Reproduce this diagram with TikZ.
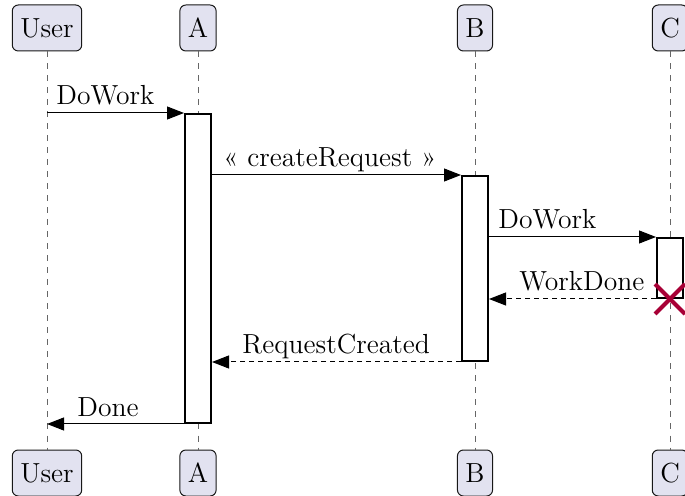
\documentclass[tikz,border=0pt]{standalone}
\usepackage{fontspec}
\usetikzlibrary{arrows.meta,fit}

\definecolor{partfill}{HTML}{E2E2F0}
\definecolor{partline}{HTML}{181818}
\definecolor{crossred}{HTML}{A80036}

\tikzset{
  part/.style={draw=partline,fill=partfill,rounded corners=3pt,line width=0.5pt,
    minimum height=23pt,inner xsep=4pt,inner ysep=0pt},
  lifeline/.style={draw=gray!80!black,line width=0.5pt,dash pattern=on 3pt off 3pt},
  activ/.style={draw=black,fill=white,line width=1pt,inner sep=0pt},
  msg/.style={line width=0.5pt,-{Triangle[length=8.5pt,width=6.5pt]}},
  reply/.style={msg,dash pattern=on 2.5pt off 2pt},
  lblr/.style={anchor=base west,inner sep=0pt,xshift=4.5pt,yshift=4pt},
  lbll/.style={anchor=base west,inner sep=0pt,xshift=15pt,yshift=4pt}
}

\begin{document}
\begin{tikzpicture}[x=0.5pt,y=-0.5pt,font=\fontsize{13.8}{16}\selectfont]
  \useasboundingbox (0,0) rectangle (685,496);

  % participanți
  \node[part] (userTop) at (47,28) {User};
  \node[part] (aTop) at (198,28) {A};
  \node[part] (bTop) at (475,28) {B};
  \node[part] (cTop) at (670,28) {C};
  \node[part] (userBot) at (47,473) {User};
  \node[part] (aBot) at (198,473) {A};
  \node[part] (bBot) at (475,473) {B};
  \node[part] (cBot) at (670,473) {C};

  % linii de viață
  \foreach \p in {user,a,b,c}
    \draw[lifeline] (\p Top) -- (\p Bot);

  % activări
  \node[activ,fit={(185,114) (211,423)}] (actA) {};
  \node[activ,fit={(462,176) (488,361)}] (actB) {};
  \node[activ,fit={(657,238) (683,298)}] (actC) {};

  % mesaje
  \draw[msg] (userTop |- actA.north) -- (actA.north west);
  \node[lblr] (m1) at (userTop |- actA.north) {DoWork};
  \draw[msg] (actA.east |- actB.north) -- (actB.north west);
  \node[lblr,xshift=1pt] (m2) at (actA.east |- actB.north) {« createRequest »};
  \draw[msg] (actB.east |- actC.north) -- (actC.north west);
  \node[lblr] (m3) at (actB.east |- actC.north) {DoWork};
  \draw[reply] (actC.south west) -- (actB.east |- actC.south);
  \node[lbll] (m4) at (actB.east |- actC.south) {WorkDone};
  \draw[reply] (actB.south west) -- (actA.east |- actB.south);
  \node[lbll] (m5) at (actA.east |- actB.south) {RequestCreated};
  \draw[msg] (actA.south west) -- (userTop |- actA.south);
  \node[lbll] (m6) at (userTop |- actA.south) {Done};

  % distrugere
  \coordinate (dC) at (cTop |- actC.south);
  \draw[crossred,line width=2pt] ([shift={(-15,-15)}]dC) -- ([shift={(15,15)}]dC)
    ([shift={(-15,15)}]dC) -- ([shift={(15,-15)}]dC);
\end{tikzpicture}
\end{document}
